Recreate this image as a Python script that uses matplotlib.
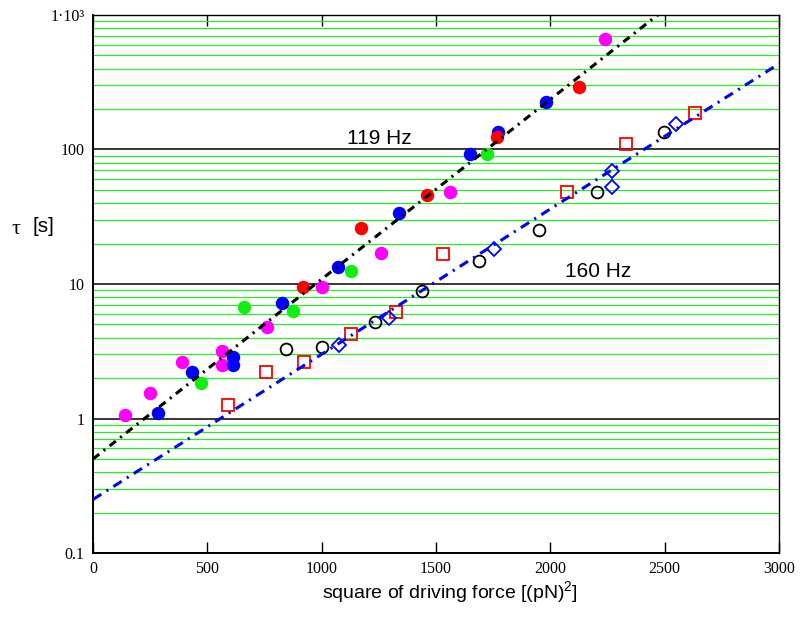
import numpy as np
import matplotlib
matplotlib.use("Agg")
import matplotlib.pyplot as plt
from matplotlib.ticker import LogLocator, FixedLocator, NullFormatter

plt.rcParams["mathtext.fontset"] = "custom"
plt.rcParams["mathtext.rm"] = "Liberation Sans"
plt.rcParams["mathtext.it"] = "Liberation Sans"

# --- data (x = F^2 in (pN)^2, y = tau in s) ---
# 119 Hz, filled circles
mag_x = [140, 249, 389, 564, 564, 761, 1001, 1260, 1561, 2239]
mag_y = [1.07, 1.56, 2.61, 3.20, 2.48, 4.75, 9.58, 17.1, 47.9, 668]

blue_x = [284, 433, 612, 612, 827, 1071, 1338, 1649, 1771, 1981]
blue_y = [1.09, 2.20, 2.89, 2.48, 7.28, 13.3, 34.0, 91.8, 134, 224]

green_x = [472, 660, 875, 1128, 1723]
green_y = [1.85, 6.69, 6.25, 12.4, 91.8]

red_x = [918, 1172, 1461, 1767, 2125]
red_y = [9.58, 26.3, 45.5, 123, 294]

# 160 Hz, open symbols
circ_x = [844, 1001, 1233, 1439, 1688, 1951, 2204, 2497]
circ_y = [3.26, 3.43, 5.26, 8.80, 14.7, 25.0, 47.9, 136]

sq_x = [590, 757, 923, 1128, 1325, 1531, 2073, 2331, 2633]
sq_y = [1.27, 2.20, 2.65, 4.28, 6.14, 16.6, 48.7, 109, 188]

dia_x = [1076, 1294, 1754, 2270, 2270, 2550]
dia_y = [3.49, 5.63, 18.1, 69.8, 52.2, 156]

# exponential fits tau = tau0 * 10^(x / x_dec)
fit119_tau0, fit119_xdec = 0.5, 748.0
fit160_tau0, fit160_xdec = 0.25, 926.0

xticks = [0, 500, 1000, 1500, 2000, 2500, 3000]
yticks = [0.1, 1, 10, 100, 1000]
ytick_labels = ["0.1", "1", "10", "100", "1·10³"]

fig = plt.figure(figsize=(8, 6.35), dpi=100)
ax = fig.add_axes([0.11625, 0.12913, 0.8575, 0.84725])
ax.set_yscale("log")
ax.set_xlim(0, 3000)
ax.set_ylim(0.1, 1000)

# grid: black decades, green minor lines
ax.yaxis.set_major_locator(FixedLocator(yticks))
ax.yaxis.set_minor_locator(LogLocator(base=10, subs=np.arange(2, 10)))
ax.yaxis.set_minor_formatter(NullFormatter())
ax.grid(True, which="major", axis="y", color="black", linewidth=1.1, zorder=1)
ax.grid(True, which="minor", axis="y", color="#2ee82e", linewidth=0.9, zorder=1)
ax.set_axisbelow(True)

ax.set_yticklabels(ytick_labels, fontfamily="Liberation Serif", fontsize=11.5)
ax.tick_params(axis="y", which="both", length=0, pad=6)
ax.set_xticks(xticks)
ax.set_xticklabels([str(v) for v in xticks], fontfamily="Liberation Serif", fontsize=11.5)
ax.tick_params(axis="x", direction="in", length=8, width=1.0, top=True, pad=6)

for side in ["left", "bottom"]:
    ax.spines[side].set_linewidth(1.4)
for side in ["top", "right"]:
    ax.spines[side].set_linewidth(1.0)

# filled points
ms_f = 9.7
ax.plot(mag_x, mag_y, "o", color="#ff00ff", ms=ms_f, mec="none", zorder=3)
ax.plot(blue_x, blue_y, "o", color="#0000ff", ms=ms_f, mec="none", zorder=3)
ax.plot(green_x, green_y, "o", color="#11ee11", ms=ms_f, mec="none", zorder=3)
ax.plot(red_x, red_y, "o", color="#ff0000", ms=ms_f, mec="none", zorder=3)

# open points
ax.plot(circ_x, circ_y, "o", mfc="none", mec="black", ms=8.5, mew=1.3, zorder=3)
ax.plot(sq_x, sq_y, "s", mfc="none", mec="#ff0000", ms=8.5, mew=1.3, zorder=3)
ax.plot(dia_x, dia_y, "D", mfc="none", mec="#0000ff", ms=7.3, mew=1.3, zorder=3)

# fit lines
xf = np.array([0, 3000])
ax.plot(xf, fit119_tau0 * 10 ** (xf / fit119_xdec), color="black", lw=2.2,
        linestyle=(0, (2.6, 1.8, 0.7, 1.8)), dash_capstyle="butt", zorder=4)
ax.plot(xf, fit160_tau0 * 10 ** (xf / fit160_xdec), color="#0000ff", lw=2.2,
        linestyle=(0, (3.2, 2.0, 0.7, 2.0)), dash_capstyle="butt", zorder=4)

ax.text(1250, 121, "119 Hz", fontfamily="Liberation Sans", fontsize=15,
        ha="center", va="center", zorder=5)
ax.text(2210, 12.3, "160 Hz", fontfamily="Liberation Sans", fontsize=15,
        ha="center", va="center", zorder=5)

# axis labels
fig.text(16 / 800, 1 - 229 / 635, "τ", fontfamily="Liberation Serif", fontsize=16,
         ha="center", va="center")
fig.text(43 / 800, 1 - 227 / 635, "[s]", fontfamily="Liberation Sans", fontsize=15,
         ha="center", va="center")
fig.text(450 / 800, 1 - 592 / 635, "square of driving force [(pN)$^{2}$]",
         fontfamily="Liberation Sans", fontsize=14, ha="center", va="center")

fig.savefig("out.png", dpi=100)
